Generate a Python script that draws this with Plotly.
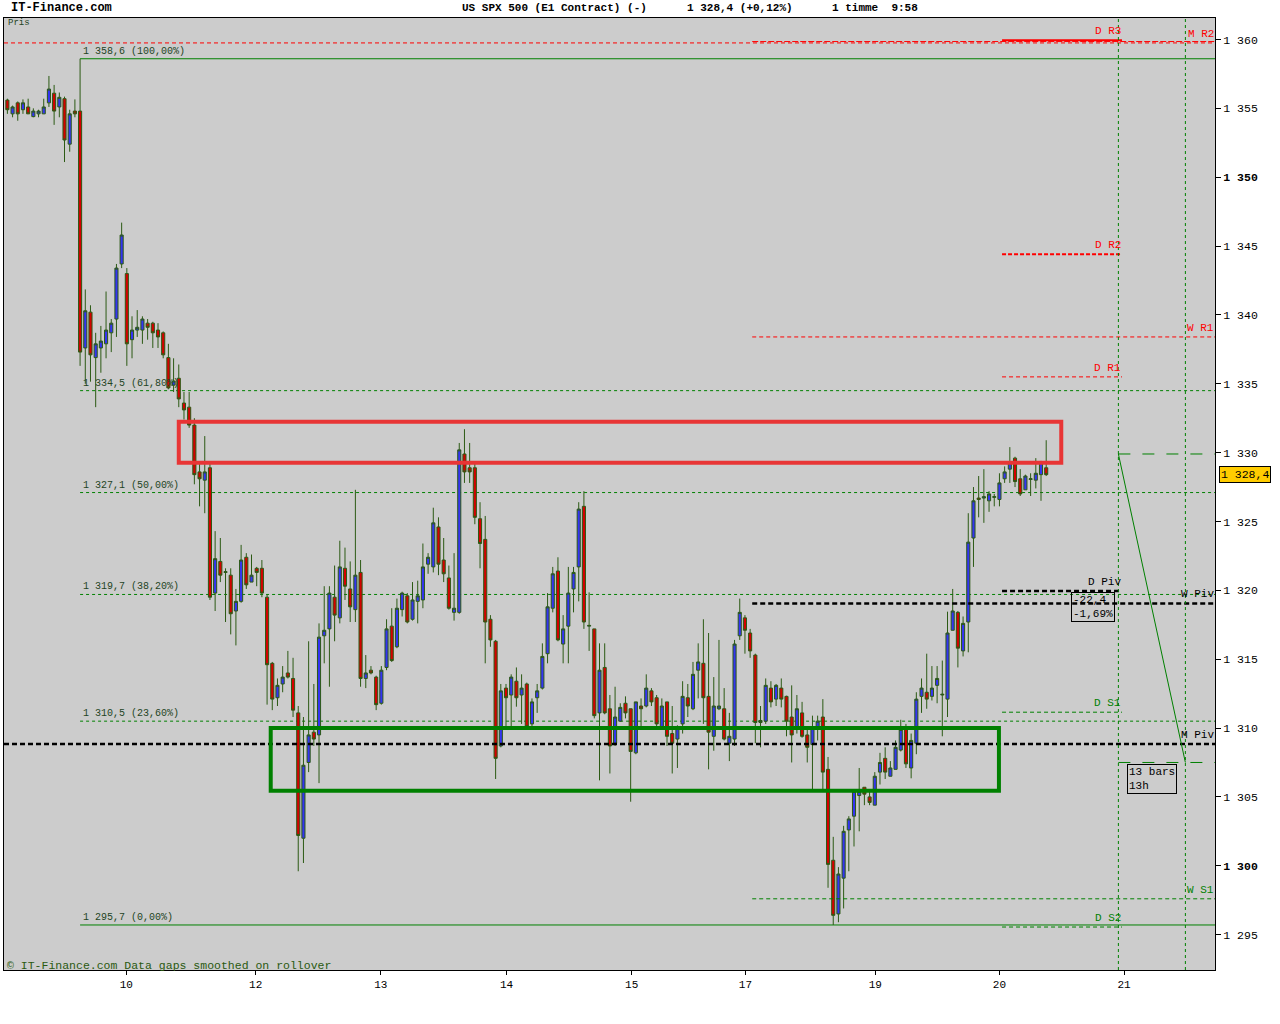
import plotly.graph_objects as go

# ---------------- data (hourly bars) ----------------
opens = [355.6,354.6,355.4,354.9,355.1,354.4,354.6,354.6,355.4,356.1,355.1,355.7,352.4,354.8,354.8,337.6,340.2,336.9,337.6,337.9,338.7,339.7,343.7,343.0,338.2,338.9,338.9,339.4,339.4,338.9,338.7,336.9,334.9,335.4,
         333.6,333.3,332.0,328.6,328.0,328.9,319.8,322.1,321.3,321.1,318.5,319.2,322.4,320.6,321.6,321.6,319.5,314.7,312.2,313.2,314.0,313.6,311.1,302.0,307.5,309.7,309.5,316.7,317.2,319.5,318.0,321.6,320.1,318.6,321.3,313.6,314.2,313.7,311.8,314.4,317.4,315.9,318.6,319.6,317.9,319.2,319.3,321.9,321.7,324.6,322.2,320.9,318.4,318.4,329.9,328.9,328.9,325.2,323.7,317.9,316.3,308.7,312.9,
         312.4,313.4,312.4,313.2,310.3,312.2,312.9,315.4,318.7,321.4,316.1,317.4,320.1,321.7,326.1,317.4,317.2,311.1,314.4,311.4,308.9,310.5,311.8,311.4,308.2,311.6,311.6,312.7,312.2,310.1,311.9,309.6,309.2,310.3,312.2,311.4,314.2,314.7,312.3,309.4,311.4,311.4,308.9,309.2,316.7,318.0,316.9,315.3,
         310.4,310.5,312.9,312.1,312.9,312.3,310.8,310.1,311.1,309.5,308.8,310.1,310.8,307.0,300.4,296.5,299.1,302.6,303.6,305.1,305.7,305.0,304.4,306.8,307.8,306.5,307.0,308.4,309.9,
         307.1,308.9,312.3,312.6,312.3,313.1,312.4,312.1,317.1,318.4,315.6,317.7,323.8,326.7,326.7,326.5,326.75,326.6,328.1,328.8,329.6,328.1,327.3,328.05,328.0,328.4,328.9]
closes = [354.9,355.1,354.6,355.4,354.6,354.8,354.8,355.1,356.4,354.8,355.8,352.7,354.6,354.6,337.3,340.3,337.1,337.9,338.1,338.9,339.4,343.4,345.8,337.9,338.9,339.1,339.7,339.1,338.7,338.4,337.1,334.7,335.2,333.9,
          333.1,332.0,328.4,328.1,328.6,319.5,322.3,321.1,321.35,318.3,319.2,322.2,320.4,321.1,321.3,319.8,314.6,312.1,313.1,313.7,313.7,311.3,302.2,307.3,309.5,309.2,316.6,317.1,319.8,318.2,321.7,320.3,318.8,321.1,313.6,314.0,314.0,311.7,314.2,317.2,314.9,318.7,319.8,317.7,319.3,319.6,321.7,322.4,324.9,321.9,321.2,318.7,318.7,330.2,328.6,328.6,325.3,323.4,317.7,316.4,307.8,312.7,312.2,
          313.7,312.2,312.9,310.1,311.9,312.7,315.2,318.8,321.2,316.4,317.2,319.8,321.3,325.9,317.7,317.45,310.9,314.2,311.1,308.7,310.8,311.5,311.1,308.3,311.9,311.4,312.9,311.9,310.3,311.6,309.4,308.9,310.1,312.3,311.6,313.9,314.8,312.2,309.7,311.6,311.6,309.2,309.4,316.1,318.4,317.1,315.6,310.4,
          310.55,313.1,311.9,313.1,312.1,310.5,309.5,311.4,309.4,308.6,310.1,310.5,306.8,300.1,296.4,299.4,302.5,303.4,305.4,305.4,305.2,304.6,306.5,307.5,306.8,307.1,308.6,309.9,307.4,
          309.1,312.1,312.9,312.1,312.9,313.6,312.45,316.9,318.5,315.8,317.6,323.5,326.5,326.6,326.8,327.0,326.8,327.8,328.6,329.3,327.9,327.0,328.3,328.1,328.5,329.3,328.4]
highs = [355.7,355.2,355.5,355.65,355.7,355.0,354.9,355.7,357.35,356.7,356.15,355.85,354.9,355.65,358.6,341.85,340.7,338.7,339.2,341.7,339.7,343.7,346.7,343.4,339.9,340.35,339.9,339.7,339.5,339.4,338.8,337.9,336.85,336.4,
         334.4,334.4,332.5,329.2,331.2,329.2,324.3,323.8,321.6,321.6,320.1,323.3,322.7,322.6,321.7,322.2,319.7,314.8,313.6,314.5,315.6,315.1,311.6,310.8,316.3,313.2,317.6,320.3,320.3,321.8,323.6,323.1,322.1,327.3,322.2,315.3,314.5,313.8,314.5,317.9,318.7,319.4,319.9,319.8,320.6,320.7,323.4,322.7,326.0,325.3,323.8,321.8,322.7,330.7,331.7,330.7,329.2,326.4,325.4,318.2,316.4,313.2,313.2,
         313.9,314.4,313.9,313.3,312.15,313.2,316.15,319.8,321.7,322.4,318.2,321.7,321.7,326.4,327.2,319.85,317.2,316.15,316.15,312.4,313.0,311.8,312.3,311.4,311.9,312.15,313.9,312.9,312.4,312.15,311.9,311.6,310.2,313.4,313.2,314.8,316.15,317.9,316.9,313.7,316.4,312.9,311.1,316.4,319.4,318.2,317.2,315.4,
         311.6,313.6,313.4,313.2,313.6,312.35,313.1,312.4,311.9,310.1,310.9,310.9,312.1,307.9,302.1,299.9,302.9,303.6,305.5,307.1,305.7,305.4,306.8,308.2,308.6,307.6,309.1,310.6,310.3,
         309.6,312.6,313.6,315.4,314.5,314.5,314.9,318.45,320.1,318.5,318.1,325.6,327.5,328.3,328.8,327.2,327.0,328.5,329.0,330.4,329.7,328.8,328.4,328.5,329.6,329.4,330.9]
lows = [354.6,354.35,354.1,354.6,354.6,354.35,354.35,354.6,355.1,353.8,354.35,351.1,351.85,354.35,336.3,335.0,335.15,333.3,335.8,336.85,337.3,338.4,343.4,336.3,336.85,338.4,337.9,338.2,337.6,337.6,336.85,334.6,334.4,333.3,
        332.4,331.8,327.7,326.1,325.6,319.3,318.5,320.6,317.7,316.8,316.0,319.1,320.1,320.6,320.3,319.5,311.7,311.3,311.6,312.6,313.6,310.8,299.6,300.2,306.8,308.7,306.0,314.7,313.0,316.3,317.6,319.3,317.7,317.7,313.0,312.9,313.9,311.3,311.7,314.2,314.8,315.8,318.1,317.6,317.8,317.6,318.7,321.2,321.3,321.1,320.6,318.6,317.8,318.3,327.8,327.8,324.8,321.6,314.7,315.9,306.3,308.6,310.1,
        310.1,311.55,310.3,309.9,310.1,311.1,312.8,314.7,318.4,316.3,314.7,314.7,318.4,319.2,317.2,315.6,310.7,306.2,311.0,306.7,308.7,310.45,310.7,304.65,308.1,310.1,311.5,311.6,310.1,310.0,308.7,306.7,307.1,309.6,310.8,311.3,312.15,310.3,307.0,308.35,311.3,309.1,307.6,308.7,316.4,315.4,315.1,308.9,
        308.6,310.3,311.5,311.6,311.5,309.4,307.5,309.6,309.3,307.5,305.5,309.1,305.5,298.4,295.7,295.9,296.9,299.6,301.4,302.5,304.4,304.4,304.4,305.9,306.3,306.5,307.0,308.3,307.1,
        306.35,308.1,311.1,311.4,312.0,311.8,309.4,310.8,317.1,314.4,315.2,315.5,321.7,325.3,324.9,325.7,326.1,326.1,327.8,327.8,327.5,326.85,327.3,326.85,327.4,326.5,328.3]
bars = list(range(len(opens)))

day_labels = ["10", "12", "13", "14", "15", "17", "19", "20", "21"]
day_bar = [22.9, 47.8, 71.9, 96.1, 120.2, 142.1, 167.1, 191.0, 215.0]

price_ticks = [295, 300, 305, 310, 315, 320, 325, 330, 335, 340, 345, 350, 355, 360]
price_tick_text = ["1 295", "<b>1 300</b>", "1 305", "1 310", "1 315", "1 320", "1 325", "1 330",
                   "1 335", "1 340", "1 345", "<b>1 350</b>", "1 355", "1 360"]

fib_levels = [358.6, 334.5, 327.1, 319.7, 310.5, 295.7]
fib_labels = ["1 358,6 (100,00%)", "1 334,5 (61,80%)", "1 327,1 (50,00%)",
              "1 319,7 (38,20%)", "1 310,5 (23,60%)", "1 295,7 (0,00%)"]
fib_start_bar = 14

pivot_names = ["D R3", "M R2", "D R2", "W R1", "D R1", "D Piv", "W Piv", "D S1", "M Piv", "W S1", "D S2"]
pivot_levels = [359.95, 359.75, 344.4, 338.4, 335.5, 319.95, 319.05, 311.15, 308.85, 297.6, 295.55]
pivot_scope = ["D", "M", "D", "W", "D", "D", "W", "D", "M", "W", "D"]

resist_zone = [329.27, 332.25]     # red box
support_zone = [305.45, 310.0]     # green box
resist_zone_bars = [33.0, 202.9]
support_zone_bars = [50.7, 190.9]

measure_from = [213.9, 329.9]      # (bar, price)
measure_to = [226.8, 307.5]
measure_text = "-22,4<br>-1,69%"
bars_text = "13 bars<br>13h"
last_price = 328.4

# ---------------- styling ----------------
X_MIN, X_MAX = -0.65, 232.5
Y_MIN, Y_MAX = 292.43, 361.56
MONO = "Liberation Mono"
BLUE, RED, OUT = "#3434f2", "#d40000", "#2c5a14"
GREEN = "#008000"
FIBTXT = "#244424"

def xp(px):
    return (px - 4) / 1211.0

def yp(py):
    return (970 - py) / 952.0

fig = go.Figure(go.Candlestick(
    x=bars, open=opens, high=highs, low=lows, close=closes,
    increasing=dict(line=dict(color=OUT, width=1), fillcolor=BLUE),
    decreasing=dict(line=dict(color=OUT, width=1), fillcolor=RED),
    whiskerwidth=0, showlegend=False, hoverinfo="skip"))

shapes = []
annos = []

# fibonacci lines
for lvl, lab in zip(fib_levels, fib_labels):
    solid = lab.endswith("(100,00%)") or lab.endswith("(0,00%)")
    shapes.append(dict(type="line", xref="x", yref="y", x0=fib_start_bar, x1=X_MAX, y0=lvl, y1=lvl,
                       line=dict(color=GREEN, width=1, dash="solid" if solid else "3px,3px"), layer="below"))
    annos.append(dict(x=fib_start_bar, y=lvl, xref="x", yref="y", text=lab, showarrow=False,
                      xanchor="left", yanchor="bottom", xshift=1, yshift=0,
                      font=dict(family=MONO, size=10, color=FIBTXT)))

# pivot lines
d_start, d_end = 191.5, 214.6
w_start = 143.4
for name, lvl, sc in zip(pivot_names, pivot_levels, pivot_scope):
    if sc == "D":
        x0, x1 = d_start, d_end
    elif sc == "W":
        x0, x1 = w_start, X_MAX
    else:
        x0, x1 = X_MIN, X_MAX
    if "R" in name:
        col = "#ff0000"
    elif "S" in name:
        col = GREEN
    else:
        col = "#000000"
    if name == "D R3":
        dash, w = "solid", 2
    elif name in ("D R2",):
        dash, w = "4px,2px", 2
    elif "Piv" in name:
        dash, w = "5px,3px", 2.5
    else:
        dash, w = "4px,3px", 1
    shapes.append(dict(type="line", xref="x", yref="y", x0=x0, x1=x1, y0=lvl, y1=lvl,
                       line=dict(color=col, width=w, dash=dash), layer="above"))
    annos.append(dict(x=x1, y=lvl, xref="x", yref="y", text=name.replace(" ", "&nbsp;"), showarrow=False,
                      xanchor="right", yanchor="bottom", xshift=1, yshift=1,
                      font=dict(family=MONO, size=11, color=col)))

# weekly R2 segment (unlabelled)
shapes.append(dict(type="line", xref="x", yref="y", x0=w_start, x1=X_MAX, y0=359.85, y1=359.85,
                   line=dict(color="#ff0000", width=1, dash="6px,2px"), layer="above"))

# zones
shapes.append(dict(type="rect", xref="x", yref="y", x0=resist_zone_bars[0], x1=resist_zone_bars[1],
                   y0=resist_zone[0], y1=resist_zone[1], line=dict(color="#e83535", width=4),
                   fillcolor="rgba(0,0,0,0)", layer="above"))
shapes.append(dict(type="rect", xref="x", yref="y", x0=support_zone_bars[0], x1=support_zone_bars[1],
                   y0=support_zone[0], y1=support_zone[1], line=dict(color=GREEN, width=4),
                   fillcolor="rgba(0,0,0,0)", layer="above"))

# measurement tool
for bx in (measure_from[0], measure_to[0]):
    shapes.append(dict(type="line", xref="x", yref="paper", x0=bx, x1=bx, y0=0, y1=1,
                       line=dict(color=GREEN, width=1, dash="3px,3px"), layer="above"))
for lvl in (measure_from[1], measure_to[1]):
    shapes.append(dict(type="line", xref="x", yref="y", x0=measure_from[0], x1=X_MAX, y0=lvl, y1=lvl,
                       line=dict(color=GREEN, width=1, dash="12px,12px"), layer="above"))
shapes.append(dict(type="line", xref="x", yref="y", x0=measure_from[0], x1=measure_to[0],
                   y0=measure_from[1], y1=measure_to[1], line=dict(color=GREEN, width=1), layer="above"))

annos.append(dict(x=xp(1071), y=yp(592), xref="paper", yref="paper", text=measure_text, showarrow=False,
                  xanchor="left", yanchor="top", align="left", bordercolor="#000000", borderwidth=1,
                  borderpad=1, font=dict(family=MONO, size=11, color="#000000")))
annos.append(dict(x=xp(1127), y=yp(764), xref="paper", yref="paper", text=bars_text, showarrow=False,
                  xanchor="left", yanchor="top", align="left", bordercolor="#000000", borderwidth=1,
                  borderpad=1, font=dict(family=MONO, size=11, color="#000000")))

# last price tag
annos.append(dict(x=1, y=last_price, xref="paper", yref="y", text="1 328,4", showarrow=False,
                  xanchor="left", yanchor="middle", xshift=4, bgcolor="#ffcc00", bordercolor="#000000",
                  borderwidth=1, borderpad=1, font=dict(family=MONO, size=11.5, color="#000000")))

# header / footer texts
annos.append(dict(x=xp(9), y=yp(8), xref="paper", yref="paper", text="<b>IT-Finance.com</b>", showarrow=False,
                  xanchor="left", yanchor="middle", font=dict(family=MONO, size=12, color="#000000")))
annos.append(dict(x=xp(460), y=yp(8), xref="paper", yref="paper", text="<b>US SPX 500 (E1 Contract) (-)</b>",
                  showarrow=False, xanchor="left", yanchor="middle", font=dict(family=MONO, size=11, color="#000000")))
annos.append(dict(x=xp(685), y=yp(8), xref="paper", yref="paper", text="<b>1 328,4 (+0,12%)</b>",
                  showarrow=False, xanchor="left", yanchor="middle", font=dict(family=MONO, size=11, color="#000000")))
annos.append(dict(x=xp(830), y=yp(8), xref="paper", yref="paper", text="<b>1 timme&nbsp; 9:58</b>",
                  showarrow=False, xanchor="left", yanchor="middle", font=dict(family=MONO, size=11, color="#000000")))
annos.append(dict(x=xp(6), y=yp(23), xref="paper", yref="paper", text="Pris", showarrow=False,
                  xanchor="left", yanchor="middle", font=dict(family=MONO, size=9, color=FIBTXT)))
annos.append(dict(x=xp(5), y=yp(965), xref="paper", yref="paper",
                  text="© IT-Finance.com Data gaps smoothed on rollover", showarrow=False,
                  xanchor="left", yanchor="middle", font=dict(family=MONO, size=11.5, color="#2a5a10")))

fig.update_layout(
    width=1280, height=1024,
    margin=dict(l=4, r=65, t=18, b=54),
    paper_bgcolor="#ffffff", plot_bgcolor="#cccccc",
    boxgap=0.15,
    shapes=shapes, annotations=annos,
    showlegend=False,
    xaxis=dict(range=[X_MIN, X_MAX], rangeslider=dict(visible=False), showgrid=False, zeroline=False,
               tickmode="array", tickvals=day_bar, ticktext=day_labels, ticks="outside", ticklen=4,
               tickcolor="#000000", showline=True, linecolor="#000000", linewidth=1, mirror=True,
               tickfont=dict(family=MONO, size=11, color="#000000")),
    yaxis=dict(range=[Y_MIN, Y_MAX], side="right", showgrid=False, zeroline=False,
               tickmode="array", tickvals=price_ticks, ticktext=price_tick_text, ticks="outside", ticklen=5,
               tickcolor="#000000", showline=True, linecolor="#000000", linewidth=1, mirror=True,
               tickfont=dict(family=MONO, size=11.5, color="#000000")),
)

fig.write_html("out.html", config={"displayModeBar": False},
               post_script="document.body.style.margin='0';document.body.style.overflow='hidden';")
